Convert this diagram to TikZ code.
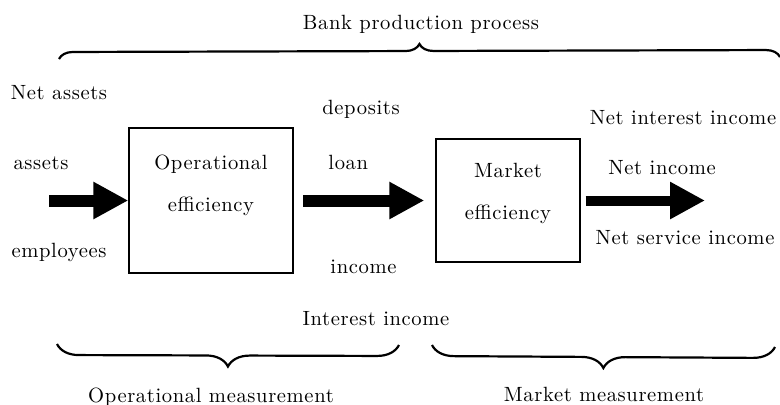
\documentclass[tikz,border=0pt]{standalone}
\usepackage{fontspec}
\setmainfont{Latin Modern Roman}[LetterSpace=3.0]
\usetikzlibrary{arrows.meta,decorations.pathreplacing,positioning}
\begin{document}
\begin{tikzpicture}[x=0.5pt,y=-0.5pt]
  \fontsize{10.3}{12.4}\selectfont
  \tikzset{
  	lbl/.style={inner sep=0pt, anchor=center, text height=1.5ex, text depth=0ex},
  	lblw/.style={lbl, anchor=west},
  	box/.style={draw, line width=0.7pt, inner sep=0pt},
  	fat/.style={line width=#1, line cap=butt, -{Triangle[length=17.5pt,width=17.5pt]}},
  	curly/.style={decorate, line width=1.1pt, decoration={brace,amplitude=#1}},
  }
  \useasboundingbox (0,0) rectangle (780,404);

  % The two efficiency boxes.
  \node[box, minimum width=82pt, minimum height=72.5pt] (opbox) at (211,200.5) {};
  \node[box, minimum width=72pt, minimum height=61.5pt] (mkbox) at (508,200.5) {};
  \node[lbl] (optop) at (211,163) {Operational};
  \node[lbl] (opbot) at (211,205) {efficiency};
  \node[lbl] (mktop) at (508,171) {Market};
  \node[lbl] (mkbot) at (508,213) {efficiency};

  % Free ends of the fat arrows.
  \coordinate (inflow) at (49,200.5);
  \coordinate (midflow) at (303,200.5);
  \coordinate (outflow) at (705,200.5);

  % Fat arrows: inputs -> operations -> market -> output.
  \draw[fat=6pt] (inflow) -- (opbox.west);
  \draw[fat=6pt, shorten >=5.5pt] (midflow) -- (mkbox.west);
  \draw[fat=5pt, shorten <=2.5pt] (mkbox.east) -- (outflow);

  % Inputs.
  \node[lbl] (netassets) at (59,93) {Net assets};
  \node[lbl] (assets) at (41,163) {assets};
  \node[lbl] (employees) at (59,251) {employees};

  % Intermediate products.
  \node[lblw] (deposits) at (322,108) {deposits};
  \node[lblw] (loan) at (328,163) {loan};
  \node[lblw] (income) at (330,267) {income};
  \node[lbl] (intincome) at (376,319) {Interest income};

  % Outputs.
  \node[lbl] (netint) at (683,118) {Net interest income};
  \node[lbl] (netincome) at (662,168) {Net income};
  \node[lbl] (netserv) at (685,238) {Net service income};

  % Braces over and under the process.
  \coordinate (topl) at (59,59);
  \coordinate (topr) at (780,57);
  \coordinate (opl) at (57,344);
  \coordinate (opr) at (399,345);
  \coordinate (mkl) at (432,345);
  \coordinate (mkr) at (775,347);
  \draw[curly=7pt] (topl) -- (topr);
  \draw[curly=11pt, decoration={mirror}] (opl) -- (opr);
  \draw[curly=11pt, decoration={mirror}] (mkl) -- (mkr);

  \node[lbl] (title) at (421,23) {Bank production process};
  \node[lbl] (opmeas) at (211,396) {Operational measurement};
  \node[lbl] (mkmeas) at (604,395) {Market measurement};
\end{tikzpicture}
\end{document}
